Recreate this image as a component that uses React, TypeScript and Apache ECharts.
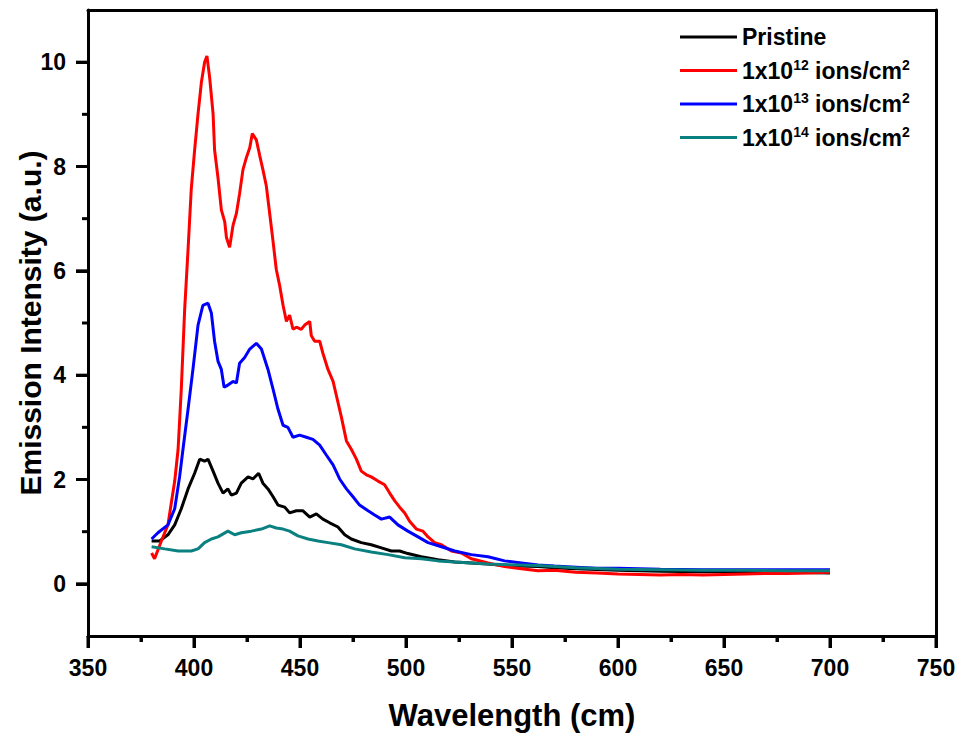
import React, { useEffect, useRef } from "react";
import * as echarts from "echarts";

const seriesNames = ["Pristine", "1x10^12 ions/cm^2", "1x10^13 ions/cm^2", "1x10^14 ions/cm^2"];
const seriesColors = ["#000000", "#ff0000", "#0000ff", "#0a8080"];

const xMajorTicks = [350, 400, 450, 500, 550, 600, 650, 700, 750];
const xMinorTicks = [375, 425, 475, 525, 575, 625, 675, 725];
const yMajorTicks = [0, 2, 4, 6, 8, 10];
const yMinorTicks = [1, 3, 5, 7, 9];

const pristineWl = [380, 383.8, 387.7, 390.9, 394, 397.2, 400.3, 402.7, 405, 406.6, 409, 411.3, 413.7, 416, 417.6, 420, 422.3, 425.5, 427.8, 430.5, 432.5, 434.9, 437.3, 439.6, 442.8, 445.1, 448.3, 451.4, 454.6, 457.7, 460.8, 464, 467.9, 471.1, 474.2, 478.9, 483.6, 488.4, 493.1, 497, 500.9, 507.2, 515.1, 523, 530.8, 538.7, 546.5, 562.3, 570, 580, 600, 620, 640, 660, 680, 700];
const pristineVal = [0.82, 0.82, 0.94, 1.13, 1.44, 1.82, 2.12, 2.39, 2.35, 2.39, 2.16, 1.93, 1.74, 1.82, 1.7, 1.74, 1.93, 2.05, 2.01, 2.12, 1.93, 1.82, 1.67, 1.51, 1.47, 1.36, 1.4, 1.4, 1.28, 1.34, 1.24, 1.17, 1.09, 0.94, 0.86, 0.79, 0.75, 0.69, 0.63, 0.63, 0.58, 0.52, 0.46, 0.42, 0.4, 0.38, 0.35, 0.33, 0.31, 0.29, 0.26, 0.24, 0.23, 0.23, 0.22, 0.21];

const e12Wl = [380, 381.4, 384.6, 387.7, 390.9, 392.5, 394, 395.6, 397.2, 398.7, 400.3, 401.9, 403.5, 405, 406.1, 407.4, 409, 409.7, 411.3, 412.9, 414.5, 415.3, 416.8, 418.4, 420, 421.5, 423.1, 424.7, 426.3, 427.5, 429.4, 431, 432.5, 434.1, 435.7, 437.3, 438.8, 440.4, 442, 443.6, 445.1, 446.7, 448.3, 450.6, 452.2, 454.6, 455.3, 456.9, 459.3, 460.8, 463.2, 465.6, 467.1, 469.5, 471.9, 474.2, 476.6, 478.9, 481.3, 483.6, 486.8, 489.9, 492.3, 494.7, 497, 499.4, 501.7, 504.9, 508, 510.4, 513.5, 516.7, 521.4, 526.1, 530.8, 538.7, 546.5, 554.4, 562.3, 570, 580, 590, 600, 610, 620, 630, 640, 650, 660, 670, 680, 690, 700];
const e12Val = [0.59, 0.48, 0.82, 1.13, 1.97, 2.58, 3.73, 5.26, 6.41, 7.56, 8.32, 9.01, 9.62, 10.0, 10.12, 9.7, 9.01, 8.32, 7.79, 7.17, 6.94, 6.64, 6.45, 6.87, 7.1, 7.48, 7.94, 8.17, 8.36, 8.63, 8.51, 8.21, 7.94, 7.63, 7.1, 6.56, 6.03, 5.72, 5.34, 5.03, 5.15, 4.88, 4.92, 4.88, 4.96, 5.03, 4.76, 4.65, 4.65, 4.42, 4.11, 3.88, 3.62, 3.2, 2.74, 2.58, 2.39, 2.16, 2.09, 2.05, 1.97, 1.9, 1.74, 1.59, 1.47, 1.36, 1.2, 1.05, 1.01, 0.9, 0.79, 0.75, 0.63, 0.59, 0.48, 0.4, 0.33, 0.29, 0.25, 0.26, 0.22, 0.21, 0.19, 0.18, 0.17, 0.18, 0.17, 0.18, 0.19, 0.2, 0.2, 0.21, 0.22];

const e13Wl = [380, 383, 387.7, 390.9, 393.2, 394.8, 397.2, 399.5, 401.9, 404.2, 406.6, 408.2, 409.7, 411.3, 412.9, 414.2, 416, 418.4, 420, 421.5, 423.9, 426.3, 429.4, 431.8, 434.9, 437.3, 439.6, 442, 444.3, 446.7, 449.8, 453, 456.1, 459.3, 462.4, 465.6, 468.7, 471.9, 475, 478.1, 482.1, 485.2, 488.4, 492.3, 496.2, 500.9, 505.7, 510.4, 516.7, 523, 530.8, 538.7, 546.5, 554.4, 562.3, 570, 580, 590, 600, 620, 640, 660, 680, 700];
const e13Val = [0.86, 0.98, 1.13, 1.44, 2.05, 2.58, 3.35, 4.11, 4.96, 5.34, 5.38, 5.19, 4.65, 4.27, 4.11, 3.77, 3.81, 3.88, 3.85, 4.23, 4.34, 4.5, 4.61, 4.5, 4.11, 3.73, 3.35, 3.04, 3.0, 2.81, 2.85, 2.81, 2.77, 2.66, 2.47, 2.28, 2.01, 1.82, 1.67, 1.51, 1.4, 1.32, 1.24, 1.28, 1.13, 1.01, 0.9, 0.79, 0.71, 0.63, 0.56, 0.52, 0.44, 0.4, 0.36, 0.34, 0.32, 0.3, 0.3, 0.28, 0.27, 0.27, 0.27, 0.27];

const e14Wl = [380, 386.2, 392.5, 398.7, 401.9, 405, 408.2, 411.3, 416, 419.2, 422.3, 427, 431.8, 435.7, 438.8, 442, 445.1, 449, 453.8, 458.5, 463.2, 469.5, 475.8, 483.6, 491.5, 499.4, 507.2, 515.1, 523, 538.7, 562.3, 580, 600, 620, 640, 660, 680, 700];
const e14Val = [0.71, 0.67, 0.63, 0.63, 0.67, 0.79, 0.86, 0.9, 1.01, 0.94, 0.98, 1.01, 1.05, 1.11, 1.07, 1.05, 1.01, 0.92, 0.86, 0.82, 0.79, 0.75, 0.67, 0.61, 0.56, 0.5, 0.48, 0.44, 0.42, 0.38, 0.35, 0.31, 0.28, 0.27, 0.26, 0.26, 0.25, 0.25];

const wlSets = [pristineWl, e12Wl, e13Wl, e14Wl];
const valSets = [pristineVal, e12Val, e13Val, e14Val];

const FONT = "Arial, 'Liberation Sans', Helvetica, sans-serif";
const X_MIN = 350;
const Y_MIN = -1;

function zip(xs: number[], ys: number[]) {
  const n = Math.min(xs.length, ys.length);
  const out: number[][] = [];
  for (let i = 0; i < n; i++) out.push([xs[i], ys[i]]);
  return out;
}

export default function App() {
  const ref = useRef<HTMLDivElement>(null);
  useEffect(() => {
    if (!ref.current) return;
    const chart = echarts.init(ref.current, null, { renderer: "svg" });
    const mkLine = () => ({ color: "#000", width: 3 });
    const frameAxis = () => ({
      axisLine: { show: true, onZero: false, lineStyle: mkLine() },
      axisTick: { show: false },
      axisLabel: { show: false },
      splitLine: { show: false },
    });
    const option: any = {
      animation: false,
      grid: { left: 88, top: 10, right: 31, bottom: 100, outerBoundsMode: "none" },
      legend: {
        orient: "vertical",
        left: 680,
        top: 24,
        padding: 0,
        itemWidth: 57,
        itemHeight: 3,
        itemGap: 7.5,
        icon: "rect",
        data: seriesNames,
        formatter: (name: string) => name.replace(/\^(\d+)/g, "{sup|$1}"),
        textStyle: {
          fontFamily: FONT,
          fontWeight: "bold",
          fontSize: 23,
          lineHeight: 26,
          color: "#000",
          rich: {
            sup: {
              fontFamily: FONT,
              fontWeight: "bold",
              fontSize: 14,
              lineHeight: 14,
              verticalAlign: "top",
              color: "#000",
            },
          },
        },
      },
      xAxis: [
        {
          type: "value",
          min: X_MIN,
          max: 750,
          interval: 50,
          position: "bottom",
          name: "Wavelength (cm)",
          nameLocation: "middle",
          nameGap: 64,
          nameTextStyle: { fontFamily: FONT, fontWeight: "bold", fontSize: 31, color: "#000" },
          axisLine: { show: true, onZero: false, lineStyle: mkLine() },
          axisTick: { show: true, length: 12, lineStyle: mkLine() },
          minorTick: { show: true, splitNumber: 2, length: 6, lineStyle: mkLine() },
          splitLine: { show: false },
          axisLabel: {
            margin: 20,
            fontFamily: FONT,
            fontWeight: "bold",
            fontSize: 23,
            color: "#000",
          },
        },
        { type: "value", min: X_MIN, max: 750, interval: 50, position: "top", ...frameAxis() },
      ],
      yAxis: [
        {
          type: "value",
          min: Y_MIN,
          max: 11,
          position: "left",
          name: "Emission Intensity (a.u.)",
          nameLocation: "middle",
          nameGap: 43,
          nameMoveOverlap: false,
          nameTextStyle: { fontFamily: FONT, fontWeight: "bold", fontSize: 30, color: "#000" },
          axisLine: { show: true, onZero: false, lineStyle: mkLine() },
          axisTick: { show: true, length: 12, customValues: yMajorTicks, lineStyle: mkLine() },
          splitLine: { show: false },
          axisLabel: {
            margin: 22,
            fontFamily: FONT,
            fontWeight: "bold",
            fontSize: 23,
            color: "#000",
            customValues: yMajorTicks,
          },
        },
        { type: "value", min: Y_MIN, max: 11, position: "right", ...frameAxis() },
      ],
      series: seriesNames.map((name, i) => ({
        type: "line",
        name,
        xAxisIndex: 0,
        yAxisIndex: 0,
        data: zip(wlSets[i], valSets[i]),
        showSymbol: false,
        lineStyle: { color: seriesColors[i], width: 3 },
        itemStyle: { color: seriesColors[i] },
      })),
    };
    chart.setOption(option);

    // Tick marks placed through the chart's own scales.
    const finder = { xAxisIndex: 0, yAxisIndex: 0 };
    const tickEls: any[] = [];
    const pushX = (v: number, len: number) => {
      const p = chart.convertToPixel(finder as any, [v, Y_MIN]) as number[];
      if (!p) return;
      tickEls.push({
        type: "line",
        z: 100,
        silent: true,
        shape: { x1: p[0], y1: p[1], x2: p[0], y2: p[1] + len },
        style: { stroke: "#000", lineWidth: 3 },
      });
    };
    const pushY = (v: number, len: number) => {
      const p = chart.convertToPixel(finder as any, [X_MIN, v]) as number[];
      if (!p) return;
      tickEls.push({
        type: "line",
        z: 100,
        silent: true,
        shape: { x1: p[0] - len, y1: p[1], x2: p[0], y2: p[1] },
        style: { stroke: "#000", lineWidth: 3 },
      });
    };
    xMajorTicks.forEach((v) => pushX(v, 12));
    xMinorTicks.forEach((v) => pushX(v, 6));
    yMajorTicks.forEach((v) => pushY(v, 12));
    yMinorTicks.forEach((v) => pushY(v, 6));
    chart.setOption({ graphic: { elements: tickEls } });

    return () => chart.dispose();
  }, []);
  return <div ref={ref} style={{ position: "absolute", left: 0, top: 0, width: 967, height: 736 }} />;
}
